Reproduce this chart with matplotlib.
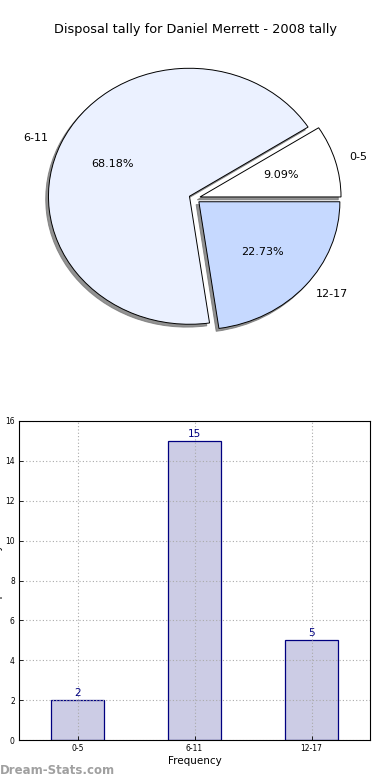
import matplotlib
matplotlib.use("Agg")
import matplotlib.pyplot as plt

categories = ["0-5", "6-11", "12-17"]
counts = [2, 15, 5]
pie_colors = ["#FFFFFF", "#EBF1FF", "#C6D9FF"]
explode = [0.04, 0.04, 0.04]
yticks = [0, 2, 4, 6, 8, 10, 12, 14, 16]

W, H = 390, 780
fig = plt.figure(figsize=(W / 100, H / 100), dpi=100)

def px_axes(left, top, width, height):
    return fig.add_axes([left / W, 1 - (top + height) / H, width / W, height / H])

# Pie
cx, cy, rx, ry = 194.6, 198.4, 141, 128
axp = px_axes(cx - 1.25 * rx, cy - 1.25 * ry, 2.5 * rx, 2.5 * ry)
wedges, texts, autotexts = axp.pie(
    counts, labels=categories, colors=pie_colors, explode=explode,
    autopct="%1.2f%%", shadow={"ox": -0.014, "oy": -0.016, "color": "#777777", "alpha": 0.8},
    startangle=0, counterclock=True,
    wedgeprops=dict(edgecolor="black", linewidth=0.7),
    textprops=dict(fontsize=8))
axp.set_aspect("auto")
axp.set_xlim(-1.25, 1.25)
axp.set_ylim(-1.25, 1.25)
axp.axis("off")

fig.text(0.5, 1 - 30 / H, "Disposal tally for Daniel Merrett - 2008 tally",
         ha="center", va="center", fontsize=9.3)

# Bar
axb = px_axes(19, 421, 351, 319)
x = list(range(len(categories)))
bars = axb.bar(x, counts, width=0.45, color="#CCCCE5", edgecolor="#000080", linewidth=0.9)
for xi, v in zip(x, counts):
    axb.text(xi, v + 0.1, str(v), ha="center", va="bottom", color="#000080", fontsize=7.5)
axb.set_xlim(-0.5, 2.5)
axb.set_ylim(0, 16)
axb.set_xticks(x)
axb.set_xticklabels(categories, fontsize=5.5)
axb.set_yticks(yticks)
axb.set_yticklabels([str(t) for t in yticks], fontsize=5.5)
axb.tick_params(direction="in", length=3, width=0.6, pad=3)
axb.set_axisbelow(False)
axb.grid(True, linestyle=(0, (1, 2)), color="#AAAAAA", linewidth=0.8)
axb.set_xlabel("Frequency", fontsize=7.5, labelpad=2)
for s in axb.spines.values():
    s.set_linewidth(0.8)
    s.set_zorder(6)

fig.text(-1.5 / W, 1 - 580 / H, "Disposal Tally", rotation=90, ha="center", va="center",
         fontsize=7.5)
fig.text(0, 1 - 770 / H, "Dream-Stats.com", ha="left", va="center",
         fontsize=8.5, color="#A0A0A0", fontweight="bold")

fig.savefig("out.png", dpi=100)
